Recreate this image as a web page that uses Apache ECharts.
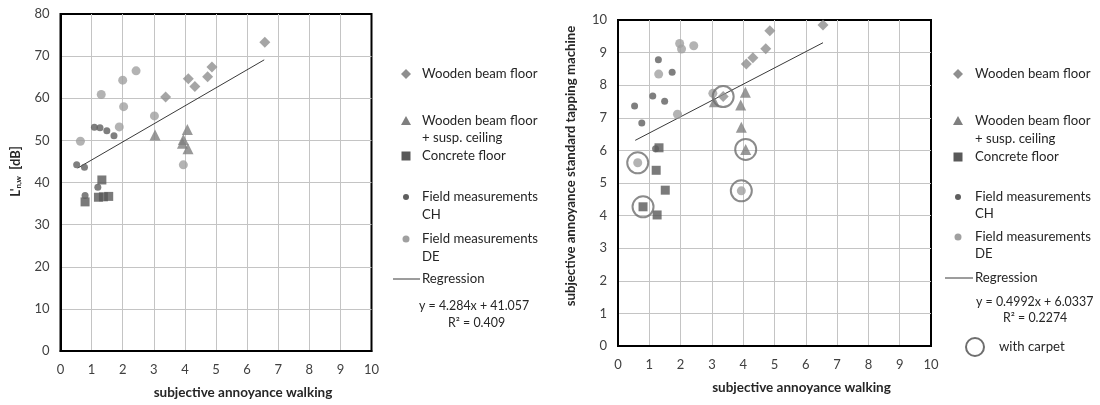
<!DOCTYPE html>
<html>
<head>
<meta charset="utf-8">
<script src="https://cdn.jsdelivr.net/npm/echarts@6/dist/echarts.min.js"></script>
<style>
  html, body { margin: 0; padding: 0; background: #fff; }
  #chart { width: 1100px; height: 405px; }
</style>
</head>
<body>
<div id="chart"></div>
<script>
// ---- Left panel: L'n,w [dB] against subjective annoyance (walking) ----
const woodLeft = [[6.57, 73.3], [4.87, 67.4], [4.73, 65.1], [4.11, 64.6], [4.32, 62.8], [3.38, 60.3]];
const susLeft = [[3.04, 51.3], [4.08, 52.6], [3.95, 50.2], [3.92, 49.3], [4.10, 48.0]];
const concreteLeft = [[1.33, 40.6], [0.79, 35.4], [1.22, 36.5], [1.38, 36.6], [1.55, 36.7]];
const chLeft = [[0.52, 44.2], [0.77, 43.6], [1.09, 53.1], [1.27, 53.0], [1.49, 52.3], [1.72, 51.1], [1.20, 38.9], [0.79, 36.9]];
const deLeft = [[0.64, 49.8], [1.31, 60.9], [2.00, 64.3], [2.43, 66.5], [2.03, 58.0], [1.89, 53.2], [3.02, 55.8], [3.95, 44.2]];
const regLeft = [4.284, 41.057];          // slope, intercept
const regLeftR2 = '0.409';

// ---- Right panel: annoyance (tapping machine) against annoyance (walking) ----
const woodRight = [[6.55, 9.85], [4.85, 9.67], [4.72, 9.12], [4.31, 8.84], [4.10, 8.65], [3.36, 7.65]];
const susRight = [[3.08, 7.49], [4.07, 7.78], [3.92, 7.39], [3.94, 6.71], [4.08, 6.03]];
const concreteRight = [[1.31, 6.08], [1.22, 5.39], [1.51, 4.78], [0.80, 4.27], [1.25, 4.02]];
const chRight = [[0.53, 7.36], [0.76, 6.84], [1.11, 7.67], [1.29, 8.78], [1.49, 7.51], [1.73, 8.40], [1.20, 6.05]];
const deRight = [[1.97, 9.28], [2.03, 9.11], [2.42, 9.21], [1.30, 8.34], [1.90, 7.11], [3.03, 7.75], [3.94, 4.76], [0.63, 5.62]];
const carpetRight = [[0.63, 5.62], [0.80, 4.27], [3.36, 7.65], [3.94, 4.76], [4.08, 6.03]];
const regRight = [0.4992, 6.0337];
const regRightR2 = '0.2274';

const regXRange = [0.55, 6.55];

const FONT = 'Lato, "Open Sans", sans-serif';
const C = {
  wood: '#8f8f8f', sus: '#7f7f7f', concrete: '#595959',
  ch: '#5f5f5f', de: '#a0a0a0', reg: '#3a3a3a', ring: '#6e6e6e',
  tick: '#404040', title: '#262626', grid: '#c4c4c4'
};

function regLine(coef) {
  return regXRange.map(x => [x, coef[0] * x + coef[1]]);
}

function scatter(name, data, idx, symbol, size, color) {
  return {
    name, type: 'scatter', xAxisIndex: idx, yAxisIndex: idx, data,
    symbol, symbolSize: size, itemStyle: { color }, z: 3,
    emphasis: { disabled: true }
  };
}

function seriesFor(idx, wood, sus, concrete, ch, de, reg) {
  return [
    {
      name: 'Regression', type: 'line', xAxisIndex: idx, yAxisIndex: idx, data: regLine(reg),
      symbol: 'none', lineStyle: { color: C.reg, width: 1 }, z: 2, silent: true
    },
    scatter('Wooden beam floor', wood, idx, 'diamond', 11, C.wood),
    scatter('Wooden beam floor + susp. ceiling', sus, idx, 'triangle', 11, C.sus),
    scatter('Concrete floor', concrete, idx, 'rect', 9, C.concrete),
    scatter('Field measurements CH', ch, idx, 'circle', 7, C.ch),
    scatter('Field measurements DE', de, idx, 'circle', 9, C.de)
  ];
}

function xAxis(idx) {
  return {
    gridIndex: idx, type: 'value', min: 0, max: 10, interval: 1,
    name: 'subjective annoyance walking', nameLocation: 'middle', nameGap: 35,
    nameTextStyle: { fontFamily: FONT, fontWeight: 'bold', fontSize: 13.5, color: C.title, padding: [0, 0, 0, 54] },
    axisLine: { show: true, lineStyle: { color: '#000', width: 2 } },
    axisTick: { show: false },
    axisLabel: { fontFamily: FONT, fontSize: 13, color: C.tick, margin: 12 },
    splitLine: { show: true, showMinLine: false, showMaxLine: false, lineStyle: { color: C.grid, width: 1 } }
  };
}

function yAxis(idx, max, interval, name, nameGap, nameStyle) {
  return {
    gridIndex: idx, type: 'value', min: 0, max, interval,
    name, nameLocation: 'middle', nameGap, nameRotate: 90,
    nameTextStyle: nameStyle,
    axisLine: { show: true, lineStyle: { color: '#000', width: 2 } },
    axisTick: { show: false },
    axisLabel: { fontFamily: FONT, fontSize: 13, color: C.tick, margin: 11 },
    splitLine: { show: true, showMinLine: false, showMaxLine: false, lineStyle: { color: C.grid, width: 1 } }
  };
}

// Legend block drawn beside each panel
function legendBlock(mx, tx, ys, eq, r2, eqX, r2X) {
  const els = [];
  const txt = (s, x, y, size) => ({
    type: 'text', x, y, silent: true,
    style: { text: s, font: size + 'px ' + FONT, fill: '#262626', textVerticalAlign: 'middle' }
  });
  const d = 5;
  els.push({ type: 'polygon', silent: true, shape: { points: [[mx, ys[0] - d], [mx + d, ys[0]], [mx, ys[0] + d], [mx - d, ys[0]]] }, style: { fill: C.wood } });
  els.push({ type: 'polygon', silent: true, shape: { points: [[mx, ys[1] - 5], [mx + 5, ys[1] + 4], [mx - 5, ys[1] + 4]] }, style: { fill: C.sus } });
  els.push({ type: 'rect', silent: true, shape: { x: mx - 4.5, y: ys[3] - 4.5, width: 9, height: 9 }, style: { fill: C.concrete } });
  els.push({ type: 'circle', silent: true, shape: { cx: mx, cy: ys[4], r: 3 }, style: { fill: C.ch } });
  els.push({ type: 'circle', silent: true, shape: { cx: mx, cy: ys[6], r: 3.5 }, style: { fill: C.de } });
  els.push({ type: 'line', silent: true, shape: { x1: mx - 13, y1: ys[8], x2: tx - 2, y2: ys[8] }, style: { stroke: C.reg, lineWidth: 1 } });
  const lines = ['Wooden beam floor', 'Wooden beam floor', '+ susp. ceiling', 'Concrete floor',
    'Field measurements', 'CH', 'Field measurements', 'DE', 'Regression'];
  lines.forEach((s, i) => els.push(txt(s, tx, ys[i], 13.2)));
  els.push(txt(eq, eqX, ys[9], 12.4));
  els.push(txt('R² = ' + r2, r2X, ys[10], 12.4));
  return els;
}

const fmtEq = (c) => 'y = ' + c[0] + 'x + ' + c[1];

const graphics = [].concat(
  legendBlock(406, 422, [74, 121, 138, 156, 197, 215, 239, 257, 279, 306, 323],
    fmtEq(regLeft), regLeftR2, 419, 448),
  legendBlock(958, 975, [74, 121, 139, 157, 197, 214, 237, 254, 278, 302, 318],
    fmtEq(regRight), regRightR2, 976, 1003),
  [
    { type: 'circle', silent: true, shape: { cx: 975, cy: 347, r: 9 }, style: { fill: 'none', stroke: C.ring, lineWidth: 2 } },
    { type: 'text', x: 999, y: 347, silent: true, style: { text: 'with carpet', font: '13.2px ' + FONT, fill: '#262626', textVerticalAlign: 'middle' } }
  ]
);

const chart = echarts.init(document.getElementById('chart'), null, { renderer: 'canvas' });
chart.setOption({
  backgroundColor: '#fff',
  animation: false,
  grid: [
    { left: 60.5, top: 14, width: 311, height: 338, show: true, borderColor: '#000', borderWidth: 2, backgroundColor: 'transparent' },
    { left: 618, top: 20, width: 313, height: 326, show: true, borderColor: '#000', borderWidth: 2, backgroundColor: 'transparent' }
  ],
  xAxis: [xAxis(0), xAxis(1)],
  yAxis: [
    yAxis(0, 80, 10, "{l|L'}{s|n,w}{l|  [dB]}", 38, {
      padding: [0, 0, 0, 22],
      rich: {
        l: { fontFamily: FONT, fontWeight: 'bold', fontSize: 13, color: C.title },
        s: { fontFamily: FONT, fontWeight: 'bold', fontSize: 8, color: C.title, verticalAlign: 'bottom', padding: [6, 0, 0, 0] }
      }
    }),
    yAxis(1, 10, 1, 'subjective annoyance standard tapping machine', 41, {
      fontFamily: FONT, fontWeight: 'bold', fontSize: 13.2, color: C.title, padding: [0, 0, 0, 34]
    })
  ],
  series: [].concat(
    seriesFor(0, woodLeft, susLeft, concreteLeft, chLeft, deLeft, regLeft),
    seriesFor(1, woodRight, susRight, concreteRight, chRight, deRight, regRight),
    [{
      name: 'with carpet', type: 'scatter', xAxisIndex: 1, yAxisIndex: 1, data: carpetRight,
      symbol: 'circle', symbolSize: 21, z: 4, silent: true,
      itemStyle: { color: 'rgba(0,0,0,0)', borderColor: C.ring, borderWidth: 2 }
    }]
  ),
  graphic: graphics
});
</script>
</body>
</html>
